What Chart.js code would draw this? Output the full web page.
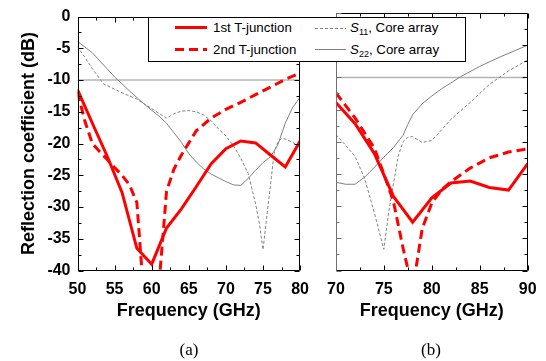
<!DOCTYPE html>
<html><head><meta charset="utf-8">
<script src="https://cdn.jsdelivr.net/npm/chart.js@4.4.1/dist/chart.umd.min.js"></script>
<style>
html,body{margin:0;padding:0;background:#fff;}
#wrap{position:relative;width:546px;height:361px;overflow:hidden;background:#fff;}
canvas{position:absolute;top:0;}
#cA{left:0px;}
#cB{left:318px;}
.lab{position:absolute;font-family:"Liberation Serif","Times New Roman",serif;font-size:17px;line-height:20px;transform:translateX(-50%);color:#000;}
#legend{position:absolute;left:148px;top:17px;width:318px;height:45px;box-sizing:border-box;border:1px solid #000;background:#fff;}
.txt{position:absolute;white-space:nowrap;font-family:"Liberation Sans",Arial,sans-serif;font-size:13.3px;line-height:16px;color:#000;}
.txt sub{font-size:9px;vertical-align:-3px;line-height:0;}
#lsvg{position:absolute;left:0;top:0;}
</style></head>
<body>
<div id="wrap">
<canvas id="cA" width="318" height="361"></canvas>
<canvas id="cB" width="228" height="361"></canvas>
<div id="legend"></div>
<svg id="lsvg" width="546" height="70">
  <line x1="175" y1="27.5" x2="207" y2="27.5" stroke="#ff0000" stroke-width="3"/>
  <line x1="175" y1="49.5" x2="207" y2="49.5" stroke="#ff0000" stroke-width="3" stroke-dasharray="9,5"/>
  <line x1="315" y1="28.5" x2="346" y2="28.5" stroke="#808080" stroke-width="1" stroke-dasharray="3,2"/>
  <line x1="315" y1="49.5" x2="346" y2="49.5" stroke="#808080" stroke-width="1"/>
</svg>
<div class="txt" style="left:213px;top:19.5px;">1st T-junction</div>
<div class="txt" style="left:213px;top:41.5px;">2nd T-junction</div>
<div class="txt" style="left:350px;top:19.5px;"><i>S</i><sub>11</sub>, Core array</div>
<div class="txt" style="left:350px;top:41.5px;"><i>S</i><sub>22</sub>, Core array</div>
<div class="lab" style="left:189px;top:340px;">(a)</div>
<div class="lab" style="left:431px;top:340px;">(b)</div>
</div>
<script>
// ---------- Data ----------
const yTicks = [0, -5, -10, -15, -20, -25, -30, -35, -40];
const refLevel = -10;

// Panel (a): 50-80 GHz
const freqA1 = [50, 52, 54, 56, 58, 60, 62, 64, 66, 68, 70, 72, 74, 76, 78, 80];
const tj1A   = [-11.5, -16.8, -22, -27.7, -36.5, -39, -33.3, -30.3, -26.8, -23.2, -20.8, -19.6, -19.9, -21.8, -23.7, -19.6];

const freqA2 = [50, 51, 52, 53, 54, 55, 56, 57, 58, 59, 61, 62, 63, 64, 66, 68, 70, 72, 74, 76, 78, 80];
const tj2A   = [-11.9, -16.5, -20, -21.3, -22.5, -23.8, -25, -26.5, -29.3, -45, -42, -27.5, -24, -21.8, -18, -16, -14.6, -13.5, -12.3, -11.1, -9.9, -8.9];

const freqA11 = [50, 52, 53.5, 56, 58, 60, 62, 63, 64, 65, 66, 67, 68, 69, 70, 71, 72, 73, 74, 74.5, 75, 76, 76.5, 77, 77.5, 78, 79, 80];
const s11A    = [-4.7, -8.2, -10.6, -12, -13, -14.5, -16, -15.3, -14.9, -14.8, -15, -15.5, -16.4, -17.7, -18.8, -20.3, -22.3, -24.7, -29.5, -32.5, -36.7, -26.6, -21.5, -19.8, -19.2, -19.3, -19.8, -20.7];

const freqA22 = [50, 52, 55, 57, 59, 61, 62, 63, 64, 65, 66, 67, 68, 69, 70, 71, 72, 73, 74, 75, 76, 77, 78, 79, 80];
const s22A    = [-3.9, -5.7, -9.5, -11.7, -13.8, -15.7, -16.8, -18.3, -19.8, -21.6, -22.9, -24, -24.8, -25.4, -26, -26.5, -26.6, -25.5, -24.2, -23, -22.1, -20.2, -16.8, -14.3, -12.7];

// Panel (b): 70-90 GHz
const freqB1 = [70, 72, 74, 76, 78, 80, 82, 84, 86, 88, 90];
const tj1B   = [-13.9, -17.2, -21.8, -28.5, -32.5, -28.7, -26.4, -26.1, -27.1, -27.5, -23.4];

const freqB2 = [70, 72, 74, 75, 76, 77, 78, 79, 80, 81, 82, 84, 86, 88, 90];
const tj2B   = [-12.4, -16.3, -21, -25, -29.3, -36.5, -43, -33.5, -29.5, -27.5, -26.2, -24.1, -22.5, -21.6, -21.1];

const freqB11 = [70, 71, 72, 73, 74, 75, 75.5, 76, 76.5, 77, 77.5, 78, 79, 80, 81, 82, 84, 86, 88, 90];
const s11B    = [-18.9, -20.5, -22.3, -25.7, -31, -36.7, -31, -26.5, -22.2, -20, -19.3, -19.2, -20.1, -19.8, -18.2, -16.5, -13.9, -11.1, -9, -7.3];

const freqB22 = [70, 71, 72, 73, 74, 75, 76, 77, 77.5, 78, 79, 80, 81, 83, 85, 87, 90];
const s22B    = [-26.3, -26.6, -26.6, -25.5, -24, -22.4, -20.9, -19, -17.3, -15.8, -14.1, -12.9, -11.8, -9.9, -8.3, -6.9, -5.0];

// ---------- Helpers ----------
const SANS = "'Liberation Sans', Arial, sans-serif";
function pts(xs, ys) { return xs.map((x, i) => ({ x: x, y: ys[i] })); }

const framePlugin = {
  id: 'frame',
  afterDatasetsDraw(chart, args, opts) {
    const { ctx, chartArea: a, scales: { x, y } } = chart;
    const L = Math.round(a.left) + 0.5, R = Math.round(a.right) - 0.5;
    const T = Math.round(a.top) + 0.5, B = Math.round(a.bottom) - 0.5;
    ctx.save();
    ctx.lineWidth = 1;
    ctx.strokeStyle = '#000';
    ctx.beginPath();
    for (let v = x.min; v <= x.max + 1e-6; v += 2.5) {
      const px = Math.round(x.getPixelForValue(v)) + 0.5;
      const len = Math.abs(v % 5) < 1e-6 ? 5 : 3;
      ctx.moveTo(px, B); ctx.lineTo(px, B - len);
      ctx.moveTo(px, T); ctx.lineTo(px, T + len);
    }
    for (let v = y.min; v <= y.max + 1e-6; v += 2.5) {
      const py = Math.round(y.getPixelForValue(v)) + 0.5;
      const len = Math.abs(v % 5) < 1e-6 ? 5 : 3;
      ctx.moveTo(R, py); ctx.lineTo(R - len, py);
    }
    ctx.stroke();
    ctx.beginPath();
    ctx.moveTo(L, T); ctx.lineTo(R, T); ctx.lineTo(R, B); ctx.lineTo(L, B);
    ctx.stroke();
    ctx.strokeStyle = opts.leftColor || '#000';
    ctx.beginPath();
    ctx.moveTo(L, T); ctx.lineTo(L, B);
    for (let v = y.min; v <= y.max + 1e-6; v += 2.5) {
      const py = Math.round(y.getPixelForValue(v)) + 0.5;
      const len = Math.abs(v % 5) < 1e-6 ? 5 : 3;
      ctx.moveTo(L, py); ctx.lineTo(L + len, py);
    }
    ctx.stroke();
    ctx.restore();
  }
};

function makeChart(id, xmin, xmax, series, showY, leftColor, yAxisWidth, padRight) {
  const datasets = [
    { data: pts(series[0][0], series[0][1]), borderColor: '#ff0000', borderWidth: 3, order: 0 },
    { data: pts(series[1][0], series[1][1]), borderColor: '#ff0000', borderWidth: 3, borderDash: [9, 5], order: 1 },
    { data: pts(series[2][0], series[2][1]), borderColor: '#808080', borderWidth: 1, borderDash: [3, 2], order: 2 },
    { data: pts(series[3][0], series[3][1]), borderColor: '#808080', borderWidth: 1, order: 3 },
    { data: [{ x: xmin, y: refLevel }, { x: xmax, y: refLevel }], borderColor: '#b4b4b4', borderWidth: 1.5, order: 4 }
  ];
  return new Chart(document.getElementById(id), {
    type: 'line',
    data: { datasets: datasets },
    plugins: [framePlugin],
    options: {
      responsive: false, animation: false, events: [],
      layout: { padding: { top: 13, right: padRight, bottom: 30.5, left: 0 } },
      elements: { point: { radius: 0 }, line: { tension: 0, fill: false } },
      plugins: { legend: { display: false }, tooltip: { enabled: false }, frame: { leftColor: leftColor } },
      scales: {
        x: {
          type: 'linear', min: xmin, max: xmax,
          ticks: { stepSize: 5, color: '#000', font: { family: SANS, size: 16, weight: 'bold' }, padding: 9, maxRotation: 0, autoSkip: false },
          grid: { display: false, drawTicks: false }, border: { display: false },
          title: { display: true, text: 'Frequency (GHz)', color: '#000', font: { family: SANS, size: 18, weight: 'bold' }, padding: { top: 0, bottom: 8.7 } },
          afterFit(s) { s.height = 60; }
        },
        y: {
          type: 'linear', min: -40, max: 0,
          afterBuildTicks(s) { s.ticks = yTicks.map(v => ({ value: v })); },
          ticks: { display: showY, color: '#000', font: { family: SANS, size: 16, weight: 'bold' }, padding: 7 },
          grid: { display: false, drawTicks: false }, border: { display: false },
          title: { display: showY, text: 'Reflection coefficient (dB)', color: '#000', font: { family: SANS, size: 18, weight: 'bold' }, padding: { top: 18, bottom: 0 } },
          afterFit(s) { s.width = yAxisWidth; }
        }
      }
    }
  });
}

makeChart('cA', 50, 80, [[freqA1, tj1A], [freqA2, tj2A], [freqA11, s11A], [freqA22, s22A]], true, '#000', 77.5, 16.3);
makeChart('cB', 70, 90, [[freqB1, tj1B], [freqB2, tj2B], [freqB11, s11B], [freqB22, s22B]], false, '#707070', 17, 18.3);
</script>
</body></html>
